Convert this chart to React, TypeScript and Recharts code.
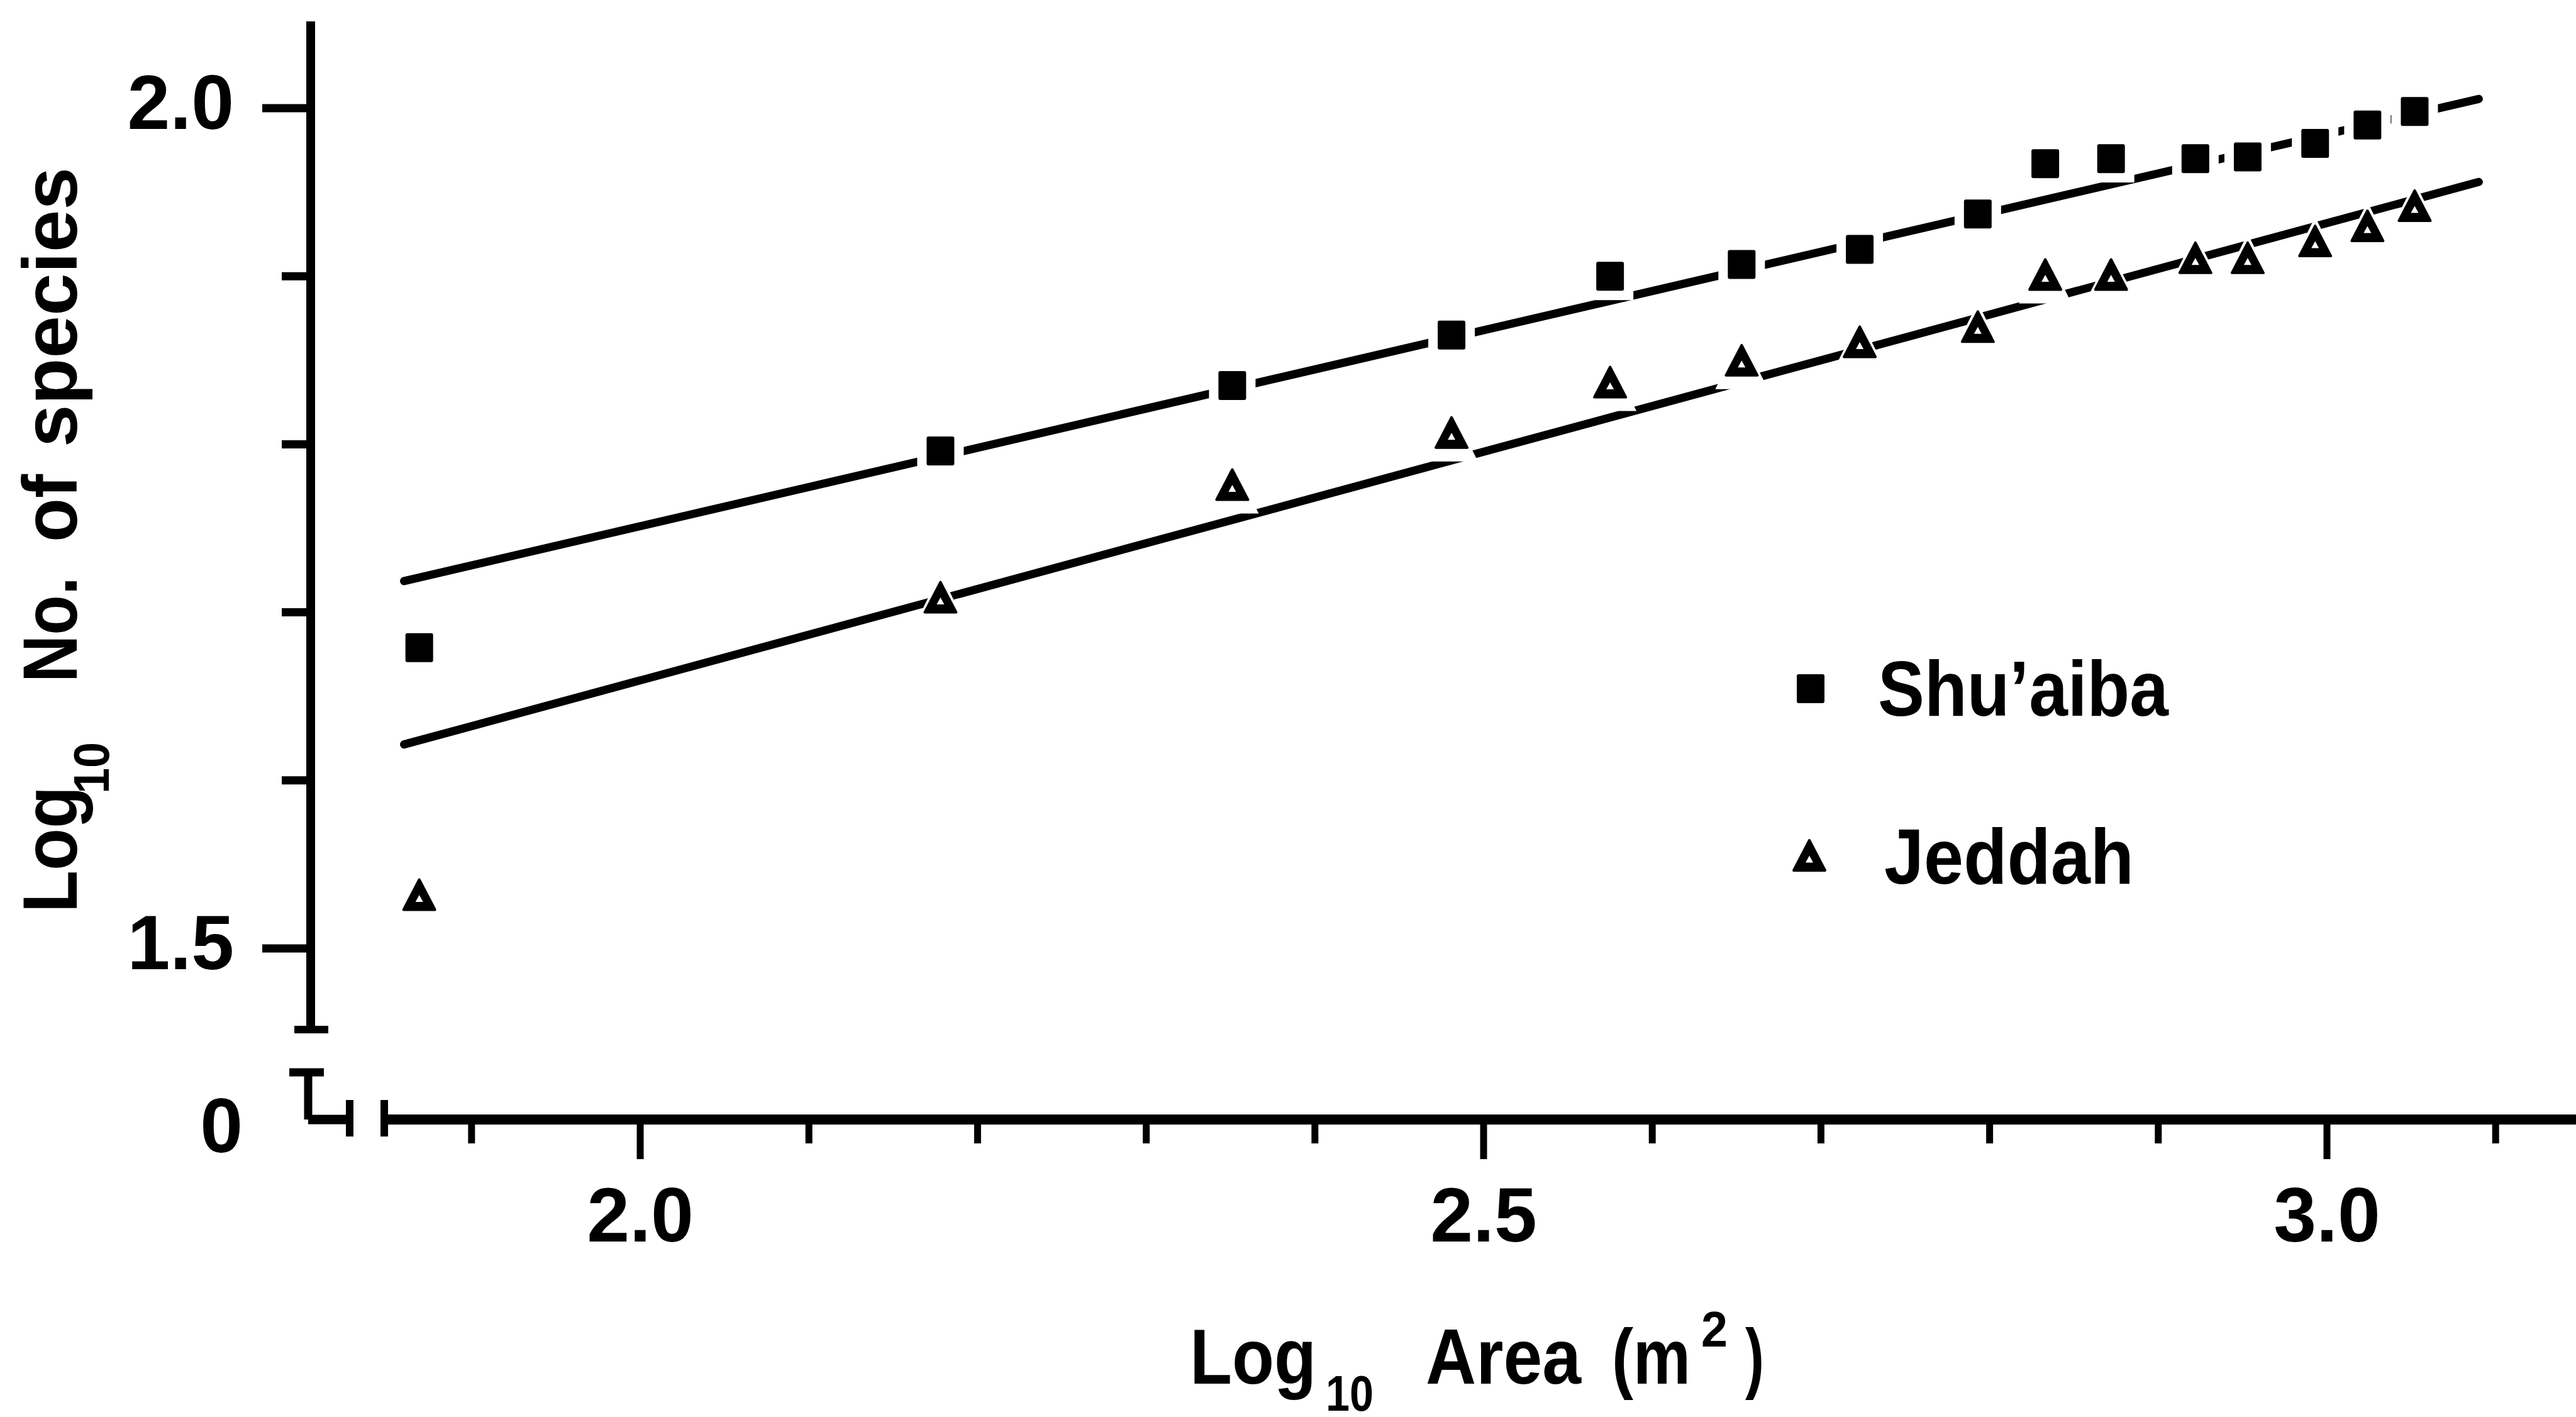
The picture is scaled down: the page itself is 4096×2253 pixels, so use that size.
import React from 'react';
import { ComposedChart, Scatter, XAxis, YAxis, ReferenceLine, Legend } from 'recharts';

// ---------------- data ----------------
const logArea = [1.869, 2.178, 2.351, 2.481, 2.575, 2.653, 2.723, 2.793, 2.833, 2.872, 2.922, 2.953, 2.993, 3.024, 3.052];
const logSpeciesShuaiba = [1.679, 1.796, 1.835, 1.865, 1.9, 1.907, 1.916, 1.937, 1.967, 1.97, 1.97, 1.971, 1.979, 1.99, 1.998];
const logSpeciesJeddah = [1.532, 1.709, 1.776, 1.807, 1.837, 1.85, 1.861, 1.87, 1.901, 1.901, 1.911, 1.911, 1.921, 1.93, 1.942];
const fitLogArea = [1.86, 3.09];
const fitShuaiba = [1.7186, 2.0055];
const fitJeddah = [1.6214, 1.9561];
const seriesNames = ['Shu\u2019aiba', 'Jeddah'];
const xTickValues = [1.9, 2.0, 2.1, 2.2, 2.3, 2.4, 2.5, 2.6, 2.7, 2.8, 2.9, 3.0, 3.1];
const xMajorTicks = [2.0, 2.5, 3.0];
const yTickValues = [1.5, 1.6, 1.7, 1.8, 1.9, 2.0];
const yMajorTicks = [1.5, 2.0];
const originLabel = '0';

// ---------------- layout ----------------
const CHART_W = 4101;
const CHART_H = 2253;
const PLOT_LEFT = 494;
const PLOT_TOP = 34;
const PLOT_BOTTOM = 1780;
const X_DOMAIN: [number, number] = [1.804623, 3.149515];
const Y_DOMAIN: [number, number] = [1.398204, 2.051647];

const FONT = '"Liberation Sans", Arial, Helvetica, sans-serif';
const TICK_FONT = 122;

const shuaibaData = logArea.map((x, i) => ({ x, y: logSpeciesShuaiba[i] }));
const jeddahData = logArea.map((x, i) => ({ x, y: logSpeciesJeddah[i] }));
const shuaibaFitData = fitLogArea.map((x, i) => ({ x, y: fitShuaiba[i] }));
const jeddahFitData = fitLogArea.map((x, i) => ({ x, y: fitJeddah[i] }));

const near = (a: number, b: number) => Math.abs(a - b) < 1e-6;

const SquareMark = (props: any) => {
  const { cx, cy } = props;
  if (cx == null || cy == null) return <g />;
  const hw = 22, hh = 23, halo = 15;
  return (
    <g>
      <rect x={cx - hw - halo} y={cy - hh - halo} width={2 * (hw + halo)} height={2 * (hh + halo)} fill="#fff" />
      <rect x={cx - hw} y={cy - hh} width={2 * hw} height={2 * hh} rx={3} fill="#000" />
    </g>
  );
};

const triPath = (cx: number, cy: number, hw: number, hh: number) =>
  `M${cx},${cy - hh} L${cx + hw},${cy + hh} L${cx - hw},${cy + hh} Z`;

const TriangleMark = (props: any) => {
  const { cx, cy } = props;
  if (cx == null || cy == null) return <g />;
  return (
    <g>
      <path d={triPath(cx, cy + 4, 42, 42)} fill="#fff" />
      <path d={triPath(cx, cy, 25, 24)} fill="#000" stroke="#000" strokeWidth={4} strokeLinejoin="round" />
      <path d={triPath(cx, cy + 6, 6, 5.5)} fill="#fff" />
    </g>
  );
};

const NoMark = () => <g />;

const XTick = (props: any) => {
  const { x, y, payload } = props;
  const v = payload.value as number;
  const major = xMajorTicks.some((m) => near(m, v));
  return (
    <g>
      <line x1={x} x2={x} y1={y} y2={y + (major ? 63 : 38)} stroke="#000" strokeWidth={11} />
      {major && (
        <text x={x} y={y + 194} textAnchor="middle" fontFamily={FONT} fontWeight={700} fontSize={TICK_FONT} fill="#000">
          {v.toFixed(1)}
        </text>
      )}
    </g>
  );
};

const YTick = (props: any) => {
  const { x, y, payload } = props;
  const v = payload.value as number;
  if (near(v, Y_DOMAIN[0])) {
    return (
      <text x={x - 108} y={y + 52} textAnchor="end" fontFamily={FONT} fontWeight={700} fontSize={TICK_FONT} fill="#000">
        {originLabel}
      </text>
    );
  }
  const major = yMajorTicks.some((m) => near(m, v));
  return (
    <g>
      <line x1={x} x2={x - (major ? 77 : 46)} y1={y} y2={y} stroke="#000" strokeWidth={13} />
      {major && (
        <text x={x - 122} y={y + 33} textAnchor="end" fontFamily={FONT} fontWeight={700} fontSize={TICK_FONT} fill="#000">
          {v.toFixed(1)}
        </text>
      )}
    </g>
  );
};

const XTitle = () => (
  <g fontFamily={FONT} fontWeight={700} fill="#000">
    <text x={1892} y={2200} fontSize={124} textLength={201} lengthAdjust="spacingAndGlyphs">Log</text>
    <text x={2108} y={2243} fontSize={80} textLength={76} lengthAdjust="spacingAndGlyphs">10</text>
    <text x={2267} y={2200} fontSize={124} textLength={247} lengthAdjust="spacingAndGlyphs">Area</text>
    <text x={2563} y={2200} fontSize={124} textLength={125} lengthAdjust="spacingAndGlyphs">(m</text>
    <text x={2705} y={2141} fontSize={80} textLength={42} lengthAdjust="spacingAndGlyphs">2</text>
    <text x={2775} y={2200} fontSize={124} textLength={30} lengthAdjust="spacingAndGlyphs">)</text>
  </g>
);

const YTitle = () => (
  <g fontFamily={FONT} fontWeight={700} fill="#000">
    <text transform="rotate(-90)" x={-1451} y={122} fontSize={122} textLength={201} lengthAdjust="spacingAndGlyphs">Log</text>
    <text transform="rotate(-90)" x={-1262} y={173} fontSize={80} textLength={82} lengthAdjust="spacingAndGlyphs">10</text>
    <text transform="rotate(-90)" x={-1085} y={122} fontSize={122} textLength={168} lengthAdjust="spacingAndGlyphs">No.</text>
    <text transform="rotate(-90)" x={-862} y={122} fontSize={122} textLength={108} lengthAdjust="spacingAndGlyphs">of</text>
    <text transform="rotate(-90)" x={-711} y={122} fontSize={122} textLength={445} lengthAdjust="spacingAndGlyphs">species</text>
  </g>
);

const LegendBox = () => (
  <svg width={700} height={450} style={{ display: 'block', overflow: 'visible' }}>
    <rect x={79 - 22} y={95 - 23} width={44} height={46} rx={3} fill="#000" />
    <text x={186} y={138} fontFamily={FONT} fontWeight={700} fontSize={124} textLength={462} lengthAdjust="spacingAndGlyphs" fill="#000">
      {seriesNames[0]}
    </text>
    <path d={triPath(77, 360, 25, 24)} fill="#000" stroke="#000" strokeWidth={4} strokeLinejoin="round" />
    <path d={triPath(77, 366, 6, 5.5)} fill="#fff" />
    <text x={196} y={405} fontFamily={FONT} fontWeight={700} fontSize={124} textLength={397} lengthAdjust="spacingAndGlyphs" fill="#000">
      {seriesNames[1]}
    </text>
  </svg>
);

// axis decoration positions (in axis units)
const Y_AXIS_X = X_DOMAIN[0];
const Y_AXIS_BOTTOM = 1.45172;
const CAP_X: [number, number] = [1.79493, 1.81507];
const T_Y = 1.42627;
const T_X: [number, number] = [1.79195, 1.81245];
const L_X = 1.80313;
const BREAK_X1 = 1.82774;
const BREAK_X2 = 1.84825;
const BREAK_Y: [number, number] = [1.3881, 1.40981];

const seg = (x1: number, y1: number, x2: number, y2: number, w: number, key: string) => (
  <ReferenceLine
    key={key}
    segment={[{ x: x1, y: y1 }, { x: x2, y: y2 }]}
    stroke="#000"
    strokeWidth={w}
    ifOverflow="visible"
  />
);

export default function App() {
  return (
    <div style={{ position: 'fixed', left: 0, top: 0, width: 4096, height: 2253, overflow: 'hidden', background: '#fff' }}>
      <ComposedChart width={CHART_W} height={CHART_H} margin={{ top: PLOT_TOP, right: 0, bottom: 0, left: 0 }}>
        <XAxis
          dataKey="x"
          type="number"
          domain={X_DOMAIN}
          allowDataOverflow
          ticks={xTickValues}
          interval={0}
          height={CHART_H - PLOT_BOTTOM}
          axisLine={false}
          tickLine={false}
          tickSize={0}
          tickMargin={0}
          tick={<XTick />}
          label={<XTitle />}
        />
        <YAxis
          dataKey="y"
          type="number"
          domain={Y_DOMAIN}
          allowDataOverflow
          ticks={[Y_DOMAIN[0], ...yTickValues]}
          interval={0}
          width={PLOT_LEFT}
          axisLine={false}
          tickLine={false}
          tickSize={0}
          tickMargin={0}
          tick={<YTick />}
          label={<YTitle />}
        />
        {seg(Y_AXIS_X, Y_AXIS_BOTTOM, Y_AXIS_X, Y_DOMAIN[1], 14, 'yaxis')}
        {seg(CAP_X[0], Y_AXIS_BOTTOM, CAP_X[1], Y_AXIS_BOTTOM, 12, 'cap')}
        {seg(T_X[0], T_Y, T_X[1], T_Y, 13, 'tbar')}
        {seg(L_X, T_Y, L_X, Y_DOMAIN[0], 13, 'lvert')}
        {seg(L_X, Y_DOMAIN[0], BREAK_X1, Y_DOMAIN[0], 15, 'lhor')}
        {seg(BREAK_X1, BREAK_Y[0], BREAK_X1, BREAK_Y[1], 12, 'b1')}
        {seg(BREAK_X2, BREAK_Y[0], BREAK_X2, BREAK_Y[1], 12, 'b2')}
        {seg(BREAK_X2, Y_DOMAIN[0], X_DOMAIN[1], Y_DOMAIN[0], 16, 'xaxis')}
        <Scatter
          name="Shu'aiba fit"
          data={shuaibaFitData}
          fill="#000"
          line={{ stroke: '#000', strokeWidth: 13, strokeLinecap: 'round' }}
          shape={<NoMark />}
          legendType="none"
          isAnimationActive={false}
        />
        <Scatter
          name="Jeddah fit"
          data={jeddahFitData}
          fill="#000"
          line={{ stroke: '#000', strokeWidth: 13, strokeLinecap: 'round' }}
          shape={<NoMark />}
          legendType="none"
          isAnimationActive={false}
        />
        <Scatter name={seriesNames[0]} data={shuaibaData} fill="#000" shape={<SquareMark />} isAnimationActive={false} />
        <Scatter name={seriesNames[1]} data={jeddahData} fill="#000" shape={<TriangleMark />} isAnimationActive={false} />
        <Legend
          layout="vertical"
          align="center"
          verticalAlign="middle"
          wrapperStyle={{ left: 2800, top: 1000, width: 700, height: 450 }}
          content={<LegendBox />}
        />
      </ComposedChart>
    </div>
  );
}
